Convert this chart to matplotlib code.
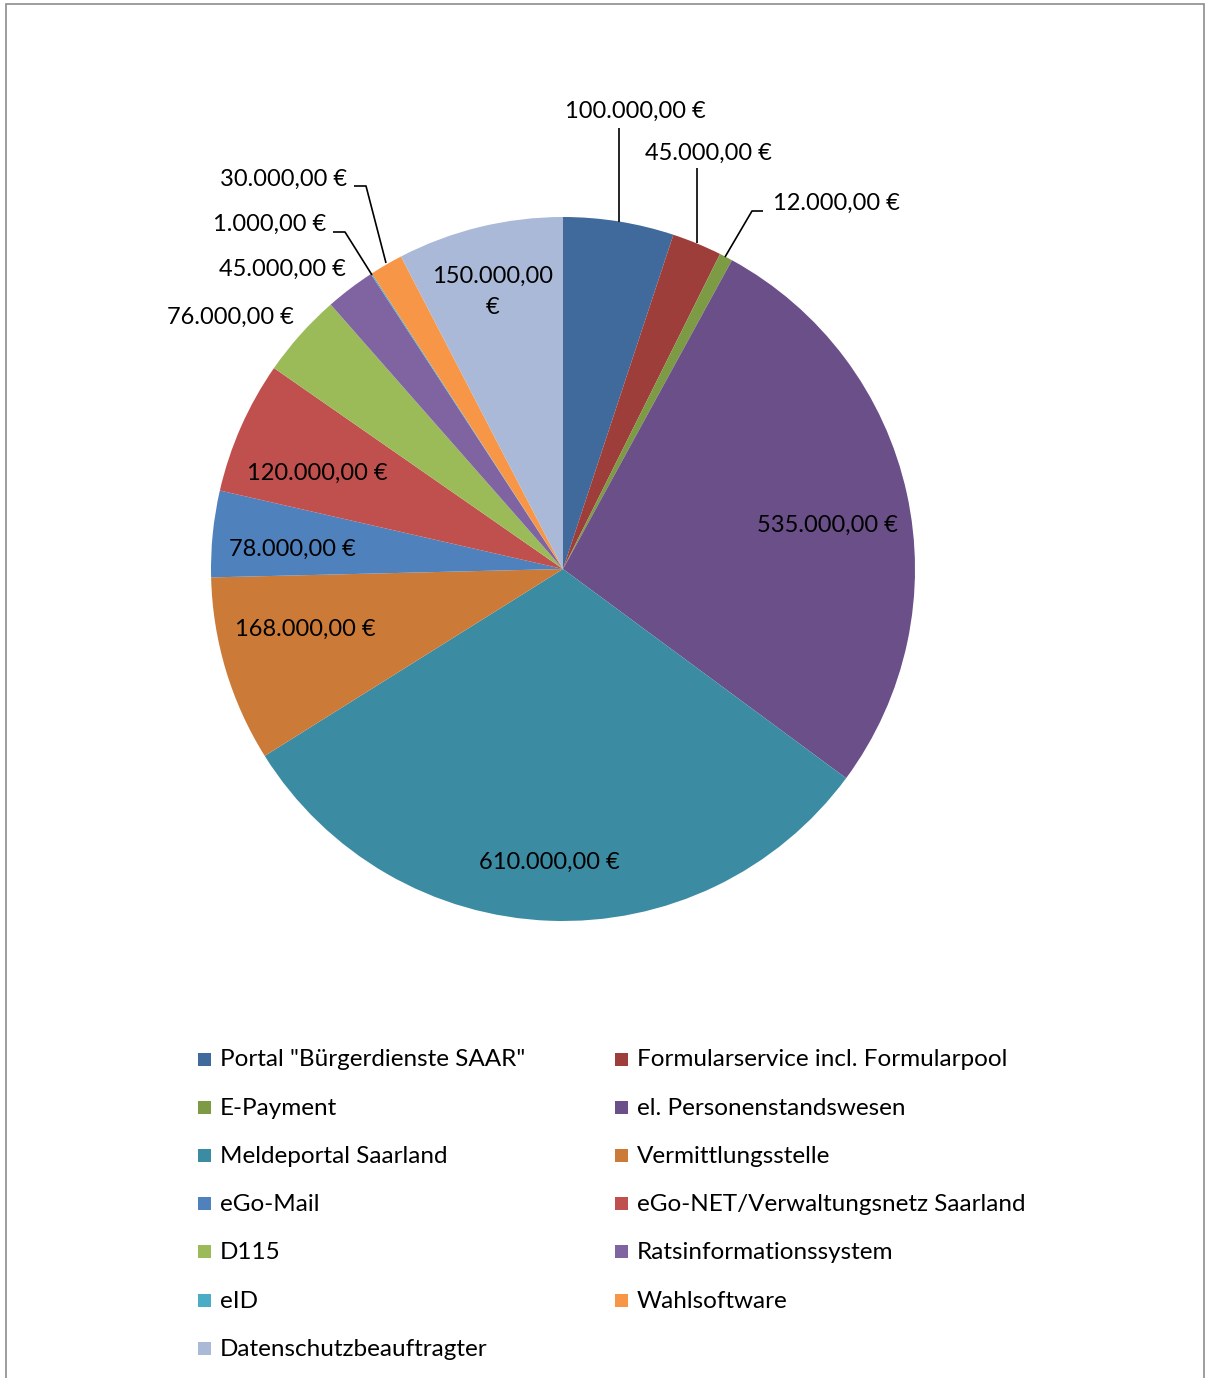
import matplotlib
matplotlib.use("Agg")
import matplotlib.pyplot as plt
from matplotlib.patches import Rectangle

plt.rcParams['font.family'] = ['Lato', 'DejaVu Sans']

# ---- data ----
categories = ['Portal "Bürgerdienste SAAR"', 'Formularservice incl. Formularpool',
              'E-Payment', 'el. Personenstandswesen', 'Meldeportal Saarland',
              'Vermittlungsstelle', 'eGo-Mail', 'eGo-NET/Verwaltungsnetz Saarland',
              'D115', 'Ratsinformationssystem', 'eID', 'Wahlsoftware',
              'Datenschutzbeauftragter']
values = [100000, 45000, 12000, 535000, 610000, 168000, 78000, 120000,
          76000, 45000, 1000, 30000, 150000]
colors = ['#3F6A9B', '#9E3E3B', '#7D9B44', '#6A4F88', '#3B8CA3', '#CC7A38',
          '#4F81BD', '#C0504D', '#9BBB59', '#8064A2', '#4BACC6', '#F79646',
          '#AAB9D7']

W, H = 1206, 1378
CX, CY, R = 563, 569, 352

fig = plt.figure(figsize=(W / 100, H / 100), dpi=100)
ax = fig.add_axes([(CX - R) / W, 1 - (CY + R) / H, 2 * R / W, 2 * R / H])
ax.pie(values, colors=colors, startangle=90, counterclock=False, radius=1,
       wedgeprops=dict(linewidth=0))
ax.set_xlim(-1, 1)
ax.set_ylim(-1, 1)
ax.axis('off')


def P(px, py):
    return ((px - CX) / R, (CY - py) / R)


def fmt(v):
    s = f"{v:,.2f}".replace(",", "X").replace(".", ",").replace("X", ".")
    return s + " €"


FS = 17
LFS = 17.5
# label positions (pixel layout), per slice
label_pos = [(635, 111), (708, 153), (836, 203), (827, 525), (549, 862),
             (305, 629), (292, 549), (317, 473), (230, 317), (282, 269),
             (270, 224), (284, 179), (493, 292)]
for i, v in enumerate(values):
    txt = fmt(v)
    if v == 150000:
        txt = txt.replace(" €", "\n€")
    x, y = P(*label_pos[i])
    ax.text(x, y, txt, ha='center', va='center', fontsize=FS, color='black',
            linespacing=1.55, clip_on=False)

leaders = [
    [(619, 128), (619, 222)],
    [(697, 168), (697, 243)],
    [(763, 211), (752, 211), (725, 257)],
    [(333, 232), (345, 232), (372, 275)],
    [(354, 186), (366, 186), (386, 263)],
]
for pts in leaders:
    xs, ys = zip(*[P(*p) for p in pts])
    ax.plot(xs, ys, color='black', lw=1.2, clip_on=False, solid_capstyle='butt')

# ---- legend (manual, two columns) ----
row_y0, row_dy = 1059, 48.2
col_x = [198, 615]
sq = 13
for i, (lab, c) in enumerate(zip(categories, colors)):
    r, col = divmod(i, 2)
    y = row_y0 + r * row_dy
    x = col_x[col]
    fig.patches.append(Rectangle((x / W, 1 - (y + sq / 2) / H), sq / W, sq / H,
                                 transform=fig.transFigure, facecolor=c,
                                 edgecolor='none'))
    fig.text((x + 22) / W, 1 - (y + 1) / H, lab, ha='left', va='center',
             fontsize=LFS, color='black')

# ---- outer border ----
fig.patches.append(Rectangle((6 / W, -0.01), (1204 - 6) / W, 1.01 - 4 / H,
                             transform=fig.transFigure, facecolor='none',
                             edgecolor='#8C8C8C', lw=1.2))

fig.savefig('out.png', dpi=100)
